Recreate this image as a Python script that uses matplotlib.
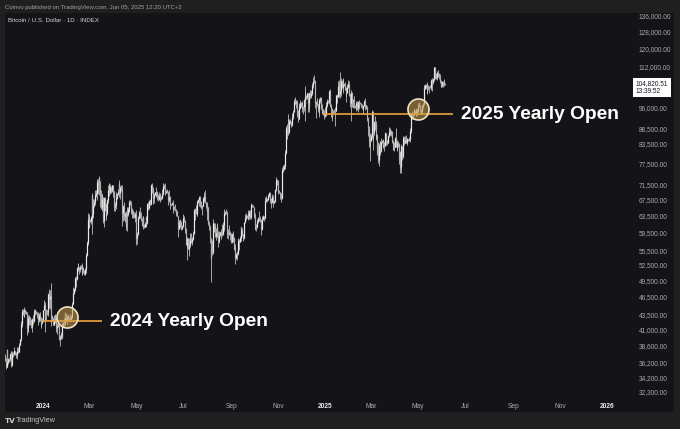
import matplotlib
matplotlib.use('Agg')
import matplotlib.pyplot as plt
import matplotlib.dates as mdates
from matplotlib.ticker import FixedLocator, FuncFormatter, NullLocator
import numpy as np
import pandas as pd

plt.rcParams['font.family'] = ['Liberation Sans', 'DejaVu Sans']

# BTC/USD daily candles, thousands of USD, first day 2023-11-12
first_day = '2023-11-12'
closes = [
    37.1, 36.5, 35.6, 37.9, 36.2, 36.6, 36.6, 37.4, 37.5, 35.8, 37.4, 37.3, 37.7, 37.8, 37.5, 37.2, 37.8, 37.9, 37.7,
    38.7, 39.5, 39.9, 41.9, 44.1, 43.8, 43.3, 44.2, 43.8, 43.8, 41.2, 41.5, 42.9, 43.0, 41.9, 42.3, 41.4, 42.7, 42.3, 43.7, 43.8, 44.0, 43.7, 43.0, 43.6, 42.5, 43.4, 42.6, 42.1, 42.2, 42.3,
    44.2, 45.0, 42.8, 44.2, 44.2, 44.0, 43.9, 47.0, 46.1, 46.6, 46.4, 42.9, 42.8, 41.7, 42.5, 43.2, 42.7, 41.3, 41.6, 41.7, 41.6, 39.5, 39.8, 40.1, 39.9, 41.8, 42.1, 42.0, 43.3, 42.9, 42.6,
    43.1, 43.2, 43.0, 42.6, 42.7, 43.1, 44.3, 45.3, 47.1, 47.8, 48.3, 50.0, 49.7, 51.8, 52.0, 52.1, 51.7, 52.1, 51.8, 52.3, 51.9, 51.3, 50.7, 51.6, 51.7, 54.5, 57.1, 62.5, 61.2,
    62.4, 62.0, 63.1, 68.3, 63.8, 66.1, 66.9, 68.3, 68.5, 69.0, 72.1, 71.5, 73.1, 71.4, 69.5, 65.3, 68.4, 67.6, 62.0, 67.9, 65.5, 63.8, 64.0, 67.2, 69.9, 69.9, 69.5, 70.8, 69.9, 69.6, 71.3,
    69.6, 65.5, 66.0, 68.5, 67.8, 68.9, 69.4, 71.6, 69.1, 70.6, 70.0, 67.2, 64.0, 65.7, 63.4, 63.8, 61.3, 63.5, 63.8, 64.9, 64.9, 66.8, 66.4, 64.3, 64.5, 63.8, 63.4, 63.1, 63.8, 60.6,
    58.3, 59.1, 62.9, 63.9, 64.0, 63.2, 62.3, 61.2, 63.0, 60.8, 60.8, 61.5, 62.9, 61.6, 66.3, 65.2, 67.0, 66.9, 66.3, 71.4, 70.1, 69.1, 67.9, 68.5, 69.3, 68.5, 69.4, 68.4, 67.6, 68.4, 67.5,
    67.8, 67.8, 68.8, 70.6, 71.1, 70.8, 69.3, 69.3, 69.6, 69.5, 67.3, 68.2, 66.8, 66.0, 66.2, 66.6, 66.5, 65.2, 64.9, 64.9, 64.1, 64.3, 63.2, 60.3, 61.8, 60.9, 61.6, 60.3, 60.9, 62.7,
    62.9, 62.1, 60.2, 56.7, 56.7, 58.2, 55.9, 56.7, 58.0, 57.7, 57.3, 57.9, 59.2, 60.8, 64.8, 65.1, 64.1, 64.0, 66.7, 67.2, 68.2, 67.6, 65.9, 65.4, 65.8, 67.9, 68.0, 68.3, 66.8, 66.2, 64.6,
    65.4, 61.5, 60.7, 58.1, 54.0, 56.0, 55.1, 61.7, 60.9, 61.0, 58.7, 59.4, 60.6, 58.7, 57.5, 58.9, 59.5, 58.5, 59.5, 59.0, 61.2, 60.4, 64.1, 64.2, 64.2, 62.9, 59.4, 59.0, 59.4, 59.1, 58.9,
    57.3, 59.1, 57.5, 58.0, 56.2, 53.9, 54.8, 54.9, 57.0, 57.6, 57.4, 58.1, 60.6, 60.0, 59.2, 58.2, 60.3, 61.8, 62.9, 63.2, 63.4, 63.6, 63.3, 64.3, 63.1, 65.2, 65.9, 65.8, 65.6, 63.3,
    60.8, 60.6, 60.8, 62.1, 62.1, 62.8, 62.2, 62.1, 60.6, 60.3, 62.5, 63.2, 62.9, 66.0, 67.1, 67.6, 67.4, 68.4, 68.4, 69.0, 67.4, 67.4, 66.7, 68.2, 66.6, 67.0, 67.9, 69.9, 72.7, 72.3, 70.2,
    69.5, 69.4, 68.8, 67.8, 69.4, 75.6, 75.9, 76.5, 76.7, 80.5, 88.7, 88.0, 90.5, 87.3, 91.1, 90.6, 89.8, 90.5, 92.3, 94.3, 98.4, 98.9, 97.7, 98.0, 93.0, 91.9, 95.9, 95.6, 97.5, 96.4,
    97.2, 95.9, 96.0, 98.8, 97.0, 99.9, 99.9, 101.2, 97.4, 96.7, 101.2, 100.0, 101.5, 101.4, 104.3, 106.1, 106.1, 100.0, 97.5, 97.8, 97.3, 95.2, 94.9, 98.7, 99.4, 95.8, 94.2, 95.2, 93.4, 92.8, 93.4,
    94.4, 96.9, 98.1, 98.2, 98.3, 102.1, 96.9, 95.0, 92.5, 94.7, 94.6, 94.5, 94.5, 96.5, 100.5, 99.9, 104.1, 104.4, 101.1, 102.0, 106.1, 103.7, 103.9, 104.8, 104.7, 102.6, 102.1, 101.3, 103.7, 104.7, 102.4,
    100.6, 97.7, 101.4, 97.9, 96.6, 96.6, 96.5, 96.5, 96.1, 97.4, 95.7, 97.8, 96.6, 97.5, 97.6, 96.2, 95.8, 95.6, 96.5, 98.3, 96.1, 96.6, 96.2, 91.6, 88.7, 84.3, 84.7, 84.4,
    86.0, 94.3, 86.1, 87.2, 90.6, 89.9, 86.7, 86.2, 80.7, 78.5, 82.9, 83.7, 81.1, 84.0, 84.3, 82.6, 84.1, 82.7, 86.9, 84.2, 84.0, 83.8, 86.1, 87.5, 87.4, 86.9, 87.2, 84.4, 82.6, 82.3, 82.5,
    85.2, 82.5, 83.1, 83.8, 83.5, 78.4, 79.2, 76.3, 82.6, 79.6, 83.4, 85.3, 83.7, 84.5, 83.6, 84.0, 84.9, 84.5, 85.1, 85.2, 87.5, 93.4, 93.7, 93.9, 94.7, 94.6, 93.8, 95.0, 94.3, 94.2,
    96.5, 96.9, 95.9, 94.3, 94.7, 96.8, 97.0, 103.2, 102.9, 104.6, 104.1, 102.8, 104.1, 103.5, 103.7, 103.5, 103.2, 106.4, 105.6, 106.8, 109.6, 111.7, 107.3, 107.8, 109.0, 109.4, 108.9, 107.8, 105.6, 103.9, 104.6,
    105.7, 105.8, 105.4, 104.7, 104.82051,
]
highs = [
    37.4, 37.4, 36.8, 38.0, 37.9, 36.8, 36.8, 37.5, 37.8, 37.6, 37.8, 37.6, 38.4, 37.9, 37.8, 37.6, 38.3, 38.4, 38.1,
    38.9, 39.6, 40.2, 42.4, 44.4, 44.3, 44.0, 44.7, 44.4, 44.0, 43.8, 42.1, 43.4, 43.4, 43.1, 42.7, 42.4, 42.8, 43.4, 44.3, 44.2, 44.4, 44.0, 43.9, 43.8, 43.6, 43.7, 43.8, 43.1, 42.6, 42.9,
    44.2, 45.9, 45.5, 44.8, 44.4, 44.2, 44.5, 47.2, 47.9, 47.7, 49.0, 46.5, 43.3, 43.1, 43.4, 43.6, 43.2, 42.9, 42.1, 41.9, 41.9, 41.7, 40.1, 40.6, 40.3, 42.2, 42.2, 42.8, 43.3, 43.9, 43.7,
    43.3, 43.5, 43.4, 43.1, 43.5, 43.4, 44.4, 45.6, 48.2, 48.1, 48.6, 50.2, 50.4, 52.0, 52.8, 52.6, 52.1, 52.4, 52.5, 52.9, 52.4, 52.0, 51.5, 51.7, 51.9, 54.9, 57.6, 64.0, 63.7,
    63.2, 62.5, 63.3, 68.5, 69.2, 67.6, 67.6, 69.9, 68.6, 70.0, 72.8, 72.9, 73.6, 73.8, 72.4, 70.0, 68.8, 68.9, 68.1, 68.1, 68.2, 66.6, 65.7, 67.6, 71.2, 71.5, 71.7, 71.5, 70.9, 70.3, 71.4,
    71.3, 69.6, 66.9, 69.3, 68.7, 69.2, 70.3, 72.7, 71.7, 71.0, 71.2, 71.2, 67.9, 65.9, 66.8, 64.3, 64.5, 64.1, 65.4, 65.4, 65.7, 67.2, 67.2, 67.1, 65.3, 64.8, 63.9, 64.3, 64.2, 64.7,
    60.8, 59.6, 63.3, 64.5, 64.6, 65.5, 64.4, 62.9, 63.3, 63.4, 61.5, 61.8, 63.4, 63.0, 66.5, 66.7, 67.4, 67.4, 67.6, 71.5, 71.9, 70.6, 70.0, 69.2, 69.5, 69.5, 70.6, 69.6, 68.9, 69.5, 69.0,
    67.9, 68.4, 70.3, 71.0, 71.8, 71.6, 71.9, 69.5, 69.9, 70.1, 69.6, 69.9, 68.4, 67.3, 66.4, 66.9, 67.2, 66.5, 65.7, 66.4, 65.0, 64.5, 64.5, 63.4, 62.3, 62.5, 62.3, 62.2, 61.2, 63.0,
    63.8, 63.3, 62.3, 60.5, 57.5, 58.5, 58.3, 58.2, 58.3, 59.4, 59.3, 58.5, 59.8, 61.4, 64.9, 65.3, 66.1, 65.1, 67.4, 67.6, 68.4, 68.4, 67.8, 67.1, 66.1, 68.2, 69.4, 68.3, 70.0, 66.9, 66.8,
    65.6, 65.6, 62.0, 61.1, 58.3, 57.0, 57.7, 62.6, 61.7, 61.4, 61.7, 60.5, 61.5, 61.7, 59.8, 59.8, 59.6, 60.2, 59.6, 61.3, 61.8, 61.4, 64.9, 64.5, 65.0, 64.5, 63.2, 60.2, 61.2, 59.8, 59.4,
    59.0, 59.4, 59.8, 58.5, 58.3, 56.9, 55.0, 55.3, 58.1, 58.0, 57.9, 58.6, 60.6, 60.7, 60.4, 59.2, 61.3, 61.8, 63.9, 64.1, 63.6, 64.0, 64.8, 64.7, 64.8, 65.8, 66.5, 66.3, 66.1, 65.6,
    64.1, 62.4, 61.4, 62.5, 62.4, 63.0, 64.5, 63.2, 62.5, 61.3, 63.4, 63.5, 63.3, 66.5, 68.0, 68.4, 67.9, 68.9, 68.7, 69.4, 69.5, 67.8, 67.5, 68.8, 68.7, 67.3, 68.2, 70.2, 73.6, 72.9, 72.6,
    71.6, 70.0, 69.4, 69.0, 70.5, 76.4, 76.9, 77.2, 76.9, 81.5, 89.4, 89.9, 93.4, 91.8, 91.8, 91.6, 91.2, 92.6, 94.0, 94.9, 99.0, 99.8, 98.9, 98.6, 98.6, 94.9, 97.4, 96.6, 98.7, 97.8,
    97.9, 98.2, 96.3, 99.0, 104.0, 101.9, 100.5, 101.4, 101.3, 98.3, 101.9, 102.5, 102.6, 102.6, 105.2, 107.8, 108.4, 106.5, 102.8, 98.2, 99.5, 97.3, 96.4, 99.4, 99.9, 99.9, 97.3, 95.5, 95.2, 94.9, 96.1,
    94.9, 97.8, 98.9, 98.7, 98.8, 102.5, 102.7, 97.3, 95.3, 95.8, 95.0, 95.4, 95.9, 97.3, 100.7, 100.8, 105.9, 104.9, 106.3, 109.6, 107.1, 106.3, 106.8, 107.1, 105.3, 105.5, 103.2, 103.8, 104.8, 106.4, 106.0,
    102.8, 101.5, 102.5, 101.7, 99.0, 99.2, 100.1, 96.9, 97.3, 98.3, 98.4, 98.1, 97.9, 98.8, 97.9, 97.7, 97.0, 96.0, 96.9, 98.8, 99.5, 96.9, 96.8, 96.5, 92.5, 89.3, 87.1, 85.1,
    86.6, 95.0, 94.4, 88.9, 91.0, 92.8, 91.2, 86.9, 86.5, 83.9, 83.6, 84.4, 84.3, 85.3, 84.7, 85.0, 84.7, 84.0, 87.4, 87.1, 84.8, 84.5, 86.2, 88.8, 88.5, 88.3, 87.8, 87.5, 84.6, 83.5, 83.9,
    85.5, 88.5, 83.9, 84.7, 84.2, 83.8, 81.2, 80.8, 83.5, 82.7, 84.2, 85.9, 86.0, 85.8, 86.4, 85.4, 85.4, 85.1, 85.6, 85.3, 88.5, 93.8, 94.6, 94.0, 95.7, 95.3, 95.0, 95.6, 95.4, 95.2,
    97.4, 97.9, 96.9, 96.3, 95.2, 96.9, 97.7, 103.9, 104.3, 104.9, 104.9, 105.8, 104.9, 104.3, 104.2, 104.5, 103.7, 107.0, 107.1, 107.3, 110.8, 111.9, 111.8, 109.5, 109.3, 110.4, 110.7, 109.3, 108.9, 106.3, 104.9,
    105.9, 105.9, 106.8, 105.9, 105.1,
]
lows = [
    36.8, 36.3, 35.3, 35.6, 35.6, 35.9, 36.2, 36.4, 36.8, 35.6, 35.7, 36.9, 37.2, 37.6, 37.2, 36.8, 36.7, 37.6, 37.5,
    37.6, 38.7, 39.3, 39.9, 41.4, 43.4, 43.1, 43.1, 43.6, 43.6, 40.2, 40.7, 40.7, 41.8, 41.7, 41.7, 41.3, 40.6, 41.9, 42.2, 43.3, 43.4, 43.6, 42.8, 42.8, 41.7, 42.2, 42.3, 41.3, 41.5, 41.9,
    42.2, 44.2, 40.7, 42.6, 42.5, 43.4, 43.6, 43.2, 44.5, 44.3, 45.6, 41.5, 42.4, 41.7, 41.7, 42.0, 42.2, 40.7, 40.3, 41.4, 41.5, 39.4, 38.5, 39.5, 39.5, 39.8, 41.4, 41.6, 41.8, 42.7, 42.3,
    41.9, 42.6, 42.9, 42.3, 42.2, 42.6, 42.8, 44.3, 45.3, 47.0, 47.6, 47.7, 48.3, 49.6, 51.3, 51.6, 50.7, 51.2, 51.6, 50.8, 50.6, 50.9, 50.5, 50.6, 51.3, 50.9, 54.4, 56.7, 60.4,
    60.8, 61.8, 61.3, 62.4, 59.0, 62.9, 65.6, 66.1, 67.9, 68.2, 67.2, 68.8, 71.3, 68.6, 65.6, 64.9, 64.6, 66.6, 61.6, 60.8, 64.5, 62.3, 63.1, 63.6, 66.6, 69.3, 68.4, 68.9, 69.2, 69.5, 69.6,
    68.1, 64.6, 64.5, 65.1, 66.0, 67.5, 68.7, 69.1, 68.2, 67.5, 69.6, 65.3, 61.0, 62.2, 62.3, 61.8, 59.9, 60.8, 59.7, 63.2, 64.3, 64.5, 65.9, 63.7, 62.8, 63.4, 62.8, 62.9, 61.8, 59.2,
    56.6, 56.9, 58.8, 62.6, 62.9, 62.8, 62.2, 60.9, 60.7, 60.2, 60.5, 60.7, 60.8, 60.9, 61.5, 64.7, 65.1, 66.7, 66.0, 66.1, 69.2, 68.9, 66.3, 66.6, 68.5, 68.4, 68.2, 67.3, 67.1, 67.3, 66.7,
    67.4, 67.3, 67.6, 68.5, 70.4, 70.2, 68.6, 69.1, 69.1, 69.2, 66.1, 66.9, 66.3, 65.1, 65.9, 66.0, 65.1, 64.1, 64.7, 64.5, 63.4, 63.9, 63.2, 58.4, 60.2, 60.7, 60.6, 60.1, 60.3, 60.7,
    62.6, 61.8, 59.4, 56.8, 53.5, 56.0, 55.8, 54.3, 56.3, 57.2, 57.1, 56.6, 57.8, 59.3, 60.7, 62.4, 63.9, 63.3, 63.3, 66.5, 65.8, 67.0, 65.5, 65.1, 63.5, 65.8, 66.8, 67.1, 66.6, 65.3, 64.5,
    62.3, 61.2, 59.9, 57.2, 49.1, 54.0, 54.6, 54.7, 59.6, 60.3, 58.4, 57.7, 58.5, 58.4, 56.2, 57.1, 58.8, 58.4, 57.9, 58.7, 58.8, 59.8, 60.3, 63.6, 63.8, 62.8, 58.1, 57.9, 58.8, 57.8, 58.7,
    57.2, 57.1, 57.4, 55.6, 55.7, 52.6, 53.7, 53.6, 54.6, 56.4, 55.5, 57.3, 57.6, 59.5, 58.7, 57.5, 58.0, 59.2, 61.6, 62.4, 62.9, 62.4, 62.7, 62.6, 62.7, 62.7, 64.9, 65.4, 65.4, 62.9,
    60.2, 59.9, 59.8, 60.5, 61.7, 62.0, 62.1, 61.8, 60.3, 58.9, 60.1, 62.4, 62.0, 62.5, 64.9, 66.7, 66.7, 67.2, 68.0, 68.2, 66.6, 66.6, 65.3, 66.5, 65.5, 66.6, 66.8, 67.6, 69.7, 71.4, 69.7,
    68.8, 69.0, 67.5, 66.8, 67.5, 69.1, 74.8, 75.6, 75.8, 76.5, 80.2, 85.1, 86.2, 86.7, 87.1, 90.1, 89.0, 89.4, 90.4, 91.6, 94.1, 97.2, 97.2, 95.8, 92.6, 90.8, 91.8, 94.6, 95.4, 96.1,
    95.7, 94.2, 93.6, 94.7, 91.0, 96.4, 98.9, 98.9, 94.2, 94.3, 95.7, 99.4, 99.3, 100.7, 101.3, 103.3, 105.3, 100.0, 95.7, 92.2, 96.4, 94.2, 92.4, 93.4, 97.6, 95.2, 93.4, 94.0, 93.0, 91.9, 92.5,
    92.8, 94.2, 96.0, 97.7, 97.3, 97.9, 96.1, 92.5, 91.2, 92.2, 93.8, 93.7, 89.3, 94.4, 96.5, 97.4, 99.9, 102.3, 99.6, 99.5, 100.1, 103.3, 101.3, 102.8, 104.1, 102.5, 97.8, 100.3, 101.3, 103.3, 101.5,
    100.3, 96.2, 91.2, 96.2, 96.2, 95.7, 95.7, 95.7, 94.7, 95.3, 94.9, 94.1, 95.3, 96.3, 97.2, 96.1, 95.2, 93.4, 95.1, 96.4, 94.9, 96.0, 95.2, 91.2, 86.1, 82.3, 82.7, 78.2,
    84.3, 85.0, 85.1, 81.4, 86.3, 87.8, 84.7, 85.2, 80.0, 77.5, 76.6, 80.7, 79.9, 80.8, 83.7, 82.0, 82.5, 81.2, 82.7, 83.2, 83.2, 83.7, 83.8, 85.5, 86.3, 86.3, 85.8, 83.6, 81.6, 81.6, 81.3,
    82.4, 82.3, 81.2, 81.6, 82.4, 77.2, 74.5, 76.2, 74.6, 78.5, 78.9, 82.7, 83.1, 83.7, 83.6, 83.1, 83.9, 84.2, 84.4, 83.9, 85.1, 87.1, 91.8, 91.7, 92.8, 93.9, 93.6, 92.9, 93.7, 92.9,
    94.1, 96.3, 95.7, 94.1, 93.5, 93.4, 95.8, 96.9, 102.3, 102.8, 103.3, 100.8, 101.5, 102.6, 101.4, 103.1, 102.6, 102.8, 102.1, 104.9, 106.1, 109.3, 106.8, 106.9, 106.6, 108.7, 107.6, 106.8, 105.3, 103.6, 103.6,
    103.8, 103.7, 105.0, 104.2, 104.3,
]

price_ticks = [32300, 34200, 36200, 38600, 41000, 43500, 46500, 49500, 52500, 55500, 59500,
               63500, 67500, 71500, 77500, 83500, 88500, 96000, 112000, 120000, 128000, 136000]
month_ticks = ['2024-01-01', '2024-03-01', '2024-05-01', '2024-07-01', '2024-09-01', '2024-11-01',
               '2025-01-01', '2025-03-01', '2025-05-01', '2025-07-01', '2025-09-01', '2025-11-01', '2026-01-01']
month_labels = ['2024', 'Mar', 'May', 'Jul', 'Sep', 'Nov', '2025', 'Mar', 'May', 'Jul', 'Sep', 'Nov', '2026']
countdown = '13:39:52'

BG = '#1f1f1f'
PANEL = '#141418'
UP = '#ececec'
DOWN = '#b0b0b0'
GOLD = '#eea43a'

dates = pd.date_range(first_day, periods=len(closes), freq='D')
x = mdates.date2num(dates)
c = np.array(closes) * 1000
h = np.array(highs) * 1000
l = np.array(lows) * 1000
o = np.r_[c[0], c[:-1]]
up = c >= o

fig = plt.figure(figsize=(6.8, 4.29), dpi=100, facecolor=BG)
ax = fig.add_axes([5 / 680, 17 / 429, 669 / 680, 399 / 429])
ax.set_facecolor(PANEL)
for s in ax.spines.values():
    s.set_visible(False)

ax.vlines(x, l, h, color='#cfcfcf', lw=0.55, zorder=2)
ax.vlines(x[up], o[up], c[up], color=UP, lw=0.85, zorder=3)
ax.vlines(x[~up], o[~up], c[~up], color=DOWN, lw=0.85, zorder=3)

ax.set_yscale('log')
ax.set_ylim(29922, 137570)
jan24 = mdates.date2num(pd.Timestamp('2024-01-01'))
ax.set_xlim(jan24 - 49.2, jan24 + 817.4)

ax.yaxis.tick_right()
ax.yaxis.set_major_locator(FixedLocator(price_ticks))
ax.yaxis.set_minor_locator(NullLocator())
ax.yaxis.set_major_formatter(FuncFormatter(lambda v, p: f'{v:,.2f}'))
ax.tick_params(axis='y', length=0, pad=-25.2, labelsize=4.7, labelcolor='#a9abb0')

ax.set_xticks(mdates.date2num(pd.to_datetime(month_ticks)), month_labels)
ax.tick_params(axis='x', length=0, pad=-6.5, labelsize=4.8, labelcolor='#a9abb0')
for t in ax.get_xticklabels():
    if t.get_text().startswith('20'):
        t.set_fontweight('bold')
        t.set_color('#e8e8e8')

# yearly opens = close of the last day of the previous year
open24 = c[dates.get_loc(pd.Timestamp('2023-12-31'))]
open25 = c[dates.get_loc(pd.Timestamp('2024-12-31'))]
d = lambda s: mdates.date2num(pd.Timestamp(s))

ax.hlines(open24, d('2024-01-01'), d('2024-03-18'), color=GOLD, lw=1.2, zorder=4)
ax.hlines(open25, d('2024-12-29'), d('2025-06-15'), color=GOLD, lw=1.2, zorder=4)
ax.scatter([d('2024-02-01'), d('2025-05-01')], [43040, 95300], s=230,
           facecolor=(0.80, 0.62, 0.30, 0.55), edgecolor='#efe3c4', linewidth=1.2, zorder=5)
ax.text(d('2024-03-28'), open24, '2024 Yearly Open', fontsize=13.8, fontweight='bold',
        color='white', va='center', ha='left', zorder=6)
ax.text(d('2025-06-25'), open25, '2025 Yearly Open', fontsize=13.8, fontweight='bold',
        color='white', va='center', ha='left', zorder=6)

# last price tag
ax.annotate(f'{c[-1]:,.2f}\n{countdown}', xy=(0.9425, c[-1]), xycoords=ax.get_yaxis_transform(),
            xytext=(0, 2.6), textcoords='offset points', fontsize=4.7, color='#131722',
            va='top', ha='left', linespacing=1.05,
            bbox=dict(boxstyle='square,pad=0.4', fc='white', ec='none'), zorder=7)

ax.text(0.005, 0.98, 'Bitcoin / U.S. Dollar · 1D · INDEX', transform=ax.transAxes,
        fontsize=4.4, color='#d4d4d4', va='center', ha='left')
fig.text(5 / 680, 1 - 7 / 429, 'Coinvo published on TradingView.com, Jun 05, 2025 12:20 UTC+2',
         fontsize=4.3, color='#a3a3a3', va='center', ha='left')
fig.text(5 / 680, 1 - 421 / 429, 'TV', fontsize=5.2, fontweight='bold', color='#d0d0d0',
         va='center', ha='left', family='DejaVu Sans')
fig.text(16 / 680, 1 - 421 / 429, 'TradingView', fontsize=5.2, color='#c4c4c4',
         va='center', ha='left')

fig.savefig('out.png', dpi=100, facecolor=BG)
